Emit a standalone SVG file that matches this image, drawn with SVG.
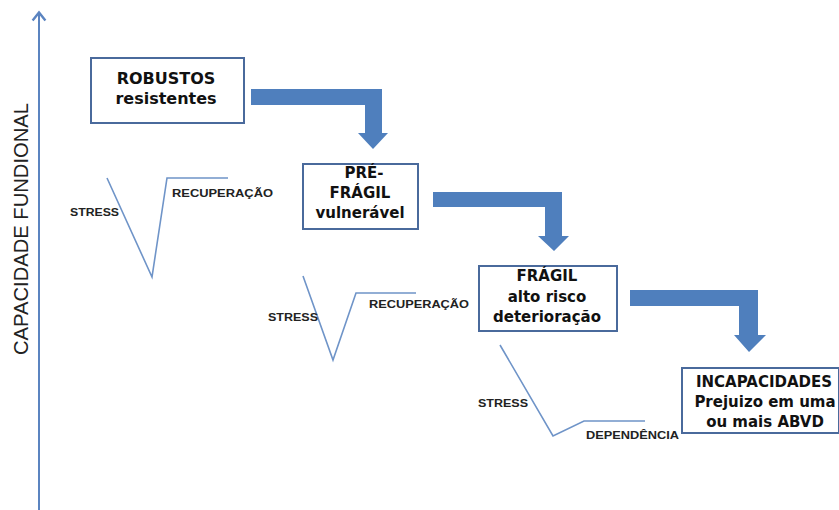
<svg xmlns="http://www.w3.org/2000/svg" width="839" height="510" viewBox="0 0 839 510">
<defs>
<style>
.box{fill:#fff;stroke:#4a6a9c;stroke-width:2}
.t{font-family:"DejaVu Sans",Verdana,sans-serif;font-weight:bold;fill:#111;text-anchor:middle}
.lbl{font-family:"Liberation Sans",Arial,sans-serif;font-weight:bold;font-size:11px;fill:#222}
.ln{fill:none;stroke:#6f94c8;stroke-width:1.6}
.big{fill:#4f7fbd}
</style>
<marker id="ah" viewBox="0 0 10 10" refX="5" refY="5" markerWidth="8" markerHeight="8" orient="auto">
<path d="M1,1 L6,5 L1,9" fill="none" stroke="#5b84c0" stroke-width="1.5"/>
</marker>
</defs>
<rect width="839" height="510" fill="#fff"/>
<g id="axis">
<line x1="39" y1="510" x2="39" y2="14" stroke="#5b84c0" stroke-width="2" marker-end="url(#ah)"/>
<text transform="translate(27.5,229) rotate(-90)" text-anchor="middle" font-family="'Liberation Sans',Arial,sans-serif" font-size="19.5" fill="#222" textLength="252" lengthAdjust="spacingAndGlyphs">CAPACIDADE FUNDIONAL</text>
</g>
<g id="connectors">
<path class="big" d="M251,89 H382 V133 H388 L373,149 L358,133 H365 V105 H251 Z"/>
<path class="big" d="M433,192 H562 V236 H569 L554,251 L538,236 H545 V207 H433 Z"/>
<path class="big" d="M630,290 H758 V335 H766 L749,352 L734,335 H739 V306 H630 Z"/>
<polyline class="ln" points="107,178 152,277 167,178 228,178"/>
<polyline class="ln" points="303,276 333,360 356,293 416,293"/>
<polyline class="ln" points="500,345 553,436 584,421 645,421"/>
<text class="lbl" x="70" y="216" textLength="49" lengthAdjust="spacingAndGlyphs">STRESS</text>
<text class="lbl" x="172" y="197" textLength="101" lengthAdjust="spacingAndGlyphs">RECUPERAÇÃO</text>
<text class="lbl" x="268" y="321" textLength="50" lengthAdjust="spacingAndGlyphs">STRESS</text>
<text class="lbl" x="369" y="308" textLength="100" lengthAdjust="spacingAndGlyphs">RECUPERAÇÃO</text>
<text class="lbl" x="478" y="407" textLength="50" lengthAdjust="spacingAndGlyphs">STRESS</text>
<text class="lbl" x="586" y="439" textLength="93" lengthAdjust="spacingAndGlyphs">DEPENDÊNCIA</text>
</g>
<g id="robustos">
<rect class="box" x="91" y="58" width="153" height="65"/>
<text class="t" x="166" y="84" font-size="16">ROBUSTOS</text>
<text class="t" x="166" y="104" font-size="16">resistentes</text>
</g>
<g id="prefragil">
<rect class="box" x="303" y="164" width="115" height="65"/>
<text class="t" x="364" y="178" font-size="15">PRÉ-</text>
<text class="t" x="360" y="198" font-size="15">FRÁGIL</text>
<text class="t" x="360" y="218" font-size="15">vulnerável</text>
</g>
<g id="fragil">
<rect class="box" x="479" y="266" width="138" height="65"/>
<text class="t" x="547" y="281" font-size="15">FRÁGIL</text>
<text class="t" x="547" y="302" font-size="15">alto risco</text>
<text class="t" x="547" y="322" font-size="15">deterioração</text>
</g>
<g id="incapacidades">
<rect class="box" x="682" y="368" width="157" height="65"/>
<text class="t" x="764" y="387" font-size="15">INCAPACIDADES</text>
<text class="t" x="765" y="407" font-size="15">Prejuizo em uma</text>
<text class="t" x="765" y="427" font-size="15">ou mais ABVD</text>
</g>
</svg>
